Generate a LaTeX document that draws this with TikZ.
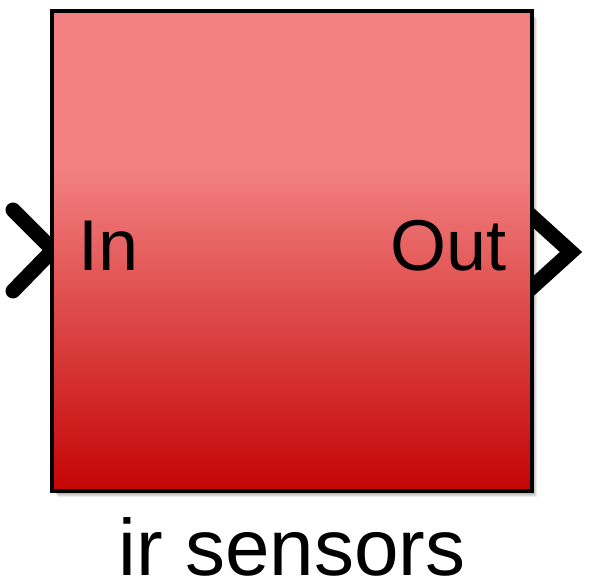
\documentclass[tikz,border=0pt]{standalone}
\usepackage{fontspec}
\setmainfont{Liberation Sans}
\usetikzlibrary{positioning}
\definecolor{boxtop}{RGB}{242,128,128}
\definecolor{boxbot}{RGB}{196,4,4}
\pgfdeclareverticalshading{blockshade}{100bp}{color(0bp)=(boxbot); color(25bp)=(boxbot); color(58.5bp)=(boxtop); color(100bp)=(boxtop)}
\tikzset{
  block/.style={draw=black, line width=2pt, shading=blockshade, minimum width=240pt, minimum height=240pt, inner sep=0pt},
  port/.style={line width=7.5pt},
  portlbl/.style={inner sep=0pt, font=\fontsize{36}{40}\selectfont},
}
\begin{document}
\begin{tikzpicture}[x=0.5pt,y=0.5pt]
    \useasboundingbox (0,0) rectangle (590,588);
    % chevrons first, the block hides their ends
    \draw[port, line cap=round] (13,378) -- (53,338) -- (13,297);
    \draw[port, line join=miter] (528,375) -- (571,336) -- (528,297);
    % soft shadow
    \foreach \i in {1,...,6}
        \fill[black, opacity=0.08] (52+\i,97-\i) rectangle (531+\i,576-\i);
    \node[block] (blk) at (291.5,336.5) {};
    \node[portlbl, anchor=base west] (inlbl) at (78,317) {In};
    \node[portlbl, anchor=base east] (outlbl) at (507,317) {Out};
    \node[inner sep=0pt, anchor=base, font=\fontsize{40}{44}\selectfont] (name) at (292,12) {ir sensors};
\end{tikzpicture}
\end{document}
